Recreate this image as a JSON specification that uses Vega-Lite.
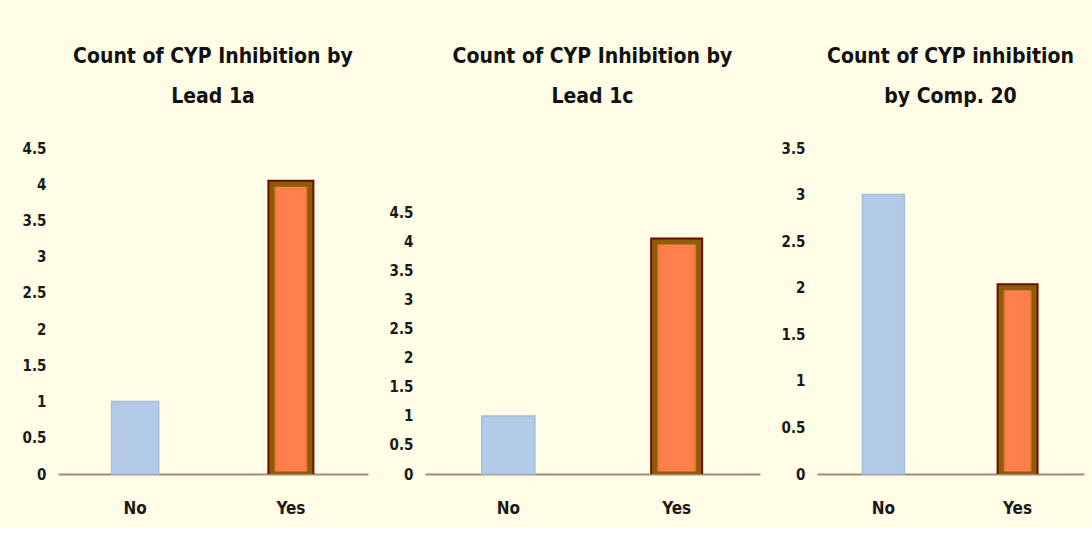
{
  "$schema": "https://vega.github.io/schema/vega-lite/v6.json",
  "background": "#FFFDE6",
  "padding": {"left": 22, "top": 46, "right": 8, "bottom": 12},
  "spacing": 21,
  "datasets": {
    "lead1a": [{"response": "No", "count": 1}, {"response": "Yes", "count": 4}],
    "lead1c": [{"response": "No", "count": 1}, {"response": "Yes", "count": 4}],
    "comp20": [{"response": "No", "count": 3}, {"response": "Yes", "count": 2}]
  },
  "hconcat": [
    {
      "title": {"text": ["Count of CYP Inhibition by", "Lead 1a"]},
      "width": 310,
      "height": 326,
      "data": {"name": "lead1a"},
      "encoding": {
        "x": {"field": "response", "type": "nominal", "scale": {"paddingInner": 0.69, "paddingOuter": 0.34}},
        "y": {"field": "count", "type": "quantitative", "scale": {"domain": [0, 4.5], "nice": false}, "axis": {"values": [0, 0.5, 1, 1.5, 2, 2.5, 3, 3.5, 4, 4.5]}}
      },
      "layer": [
        {"transform": [{"filter": "datum.response === 'No'"}], "mark": {"type": "bar", "size": 47, "fill": "#B3CBE7", "stroke": "#A3BCDB", "strokeWidth": 1.5}},
        {"transform": [{"filter": "datum.response === 'Yes'"}], "mark": {"type": "bar", "size": 38, "clip": true, "fill": "#6A0C00", "stroke": "#6A0C00", "strokeWidth": 9}},
        {"transform": [{"filter": "datum.response === 'Yes'"}], "mark": {"type": "bar", "size": 38, "clip": true, "stroke": "#8E5C06", "strokeWidth": 5, "fill": {"gradient": "linear", "x1": 0, "x2": 1, "y1": 0, "y2": 0, "stops": [{"offset": 0, "color": "#B5651A"}, {"offset": 0.14, "color": "#FF7F4C"}, {"offset": 0.86, "color": "#FF7F4C"}, {"offset": 1, "color": "#B5651A"}]}}}
      ]
    },
    {
      "title": {"text": ["Count of CYP Inhibition by", "Lead 1c"], "offset": 41},
      "width": 335,
      "height": 326,
      "data": {"name": "lead1c"},
      "encoding": {
        "x": {"field": "response", "type": "nominal", "scale": {"paddingInner": 0.69, "paddingOuter": 0.34}},
        "y": {"field": "count", "type": "quantitative", "scale": {"domain": [0, 5.62], "nice": false}, "axis": {"values": [0, 0.5, 1, 1.5, 2, 2.5, 3, 3.5, 4, 4.5]}}
      },
      "layer": [
        {"transform": [{"filter": "datum.response === 'No'"}], "mark": {"type": "bar", "size": 53, "fill": "#B3CBE7", "stroke": "#A3BCDB", "strokeWidth": 1.5}},
        {"transform": [{"filter": "datum.response === 'Yes'"}], "mark": {"type": "bar", "size": 44, "clip": true, "fill": "#6A0C00", "stroke": "#6A0C00", "strokeWidth": 9}},
        {"transform": [{"filter": "datum.response === 'Yes'"}], "mark": {"type": "bar", "size": 44, "clip": true, "stroke": "#8E5C06", "strokeWidth": 5, "fill": {"gradient": "linear", "x1": 0, "x2": 1, "y1": 0, "y2": 0, "stops": [{"offset": 0, "color": "#B5651A"}, {"offset": 0.13, "color": "#FF7F4C"}, {"offset": 0.87, "color": "#FF7F4C"}, {"offset": 1, "color": "#B5651A"}]}}}
      ]
    },
    {
      "title": {"text": ["Count of CYP inhibition", "by Comp. 20"]},
      "width": 267,
      "height": 326,
      "data": {"name": "comp20"},
      "encoding": {
        "x": {"field": "response", "type": "nominal", "scale": {"paddingInner": 0.69, "paddingOuter": 0.34}},
        "y": {"field": "count", "type": "quantitative", "scale": {"domain": [0, 3.5], "nice": false}, "axis": {"values": [0, 0.5, 1, 1.5, 2, 2.5, 3, 3.5]}}
      },
      "layer": [
        {"transform": [{"filter": "datum.response === 'No'"}], "mark": {"type": "bar", "size": 42, "fill": "#B3CBE7", "stroke": "#A3BCDB", "strokeWidth": 1.5}},
        {"transform": [{"filter": "datum.response === 'Yes'"}], "mark": {"type": "bar", "size": 33, "clip": true, "fill": "#6A0C00", "stroke": "#6A0C00", "strokeWidth": 9}},
        {"transform": [{"filter": "datum.response === 'Yes'"}], "mark": {"type": "bar", "size": 33, "clip": true, "stroke": "#8E5C06", "strokeWidth": 5, "fill": {"gradient": "linear", "x1": 0, "x2": 1, "y1": 0, "y2": 0, "stops": [{"offset": 0, "color": "#B5651A"}, {"offset": 0.16, "color": "#FF7F4C"}, {"offset": 0.84, "color": "#FF7F4C"}, {"offset": 1, "color": "#B5651A"}]}}}
      ]
    }
  ],
  "config": {
    "view": {"stroke": null},
    "font": "DejaVu Sans Condensed, Roboto, sans-serif",
    "title": {"font": "DejaVu Sans Condensed, Roboto, sans-serif", "fontSize": 21, "fontWeight": "bold", "color": "#111111", "lineHeight": 40, "offset": 34, "anchor": "middle"},
    "axisX": {"title": null, "labelAngle": 0, "labelFont": "DejaVu Sans Condensed, Roboto, sans-serif", "labelFontSize": 17, "labelFontWeight": "bold", "labelColor": "#1a1a1a", "labelPadding": 26, "ticks": false, "grid": false, "domainColor": "#A58A6E", "domainWidth": 2},
    "axisY": {"title": null, "format": "~g", "labelFont": "DejaVu Sans Condensed, Roboto, sans-serif", "labelFontSize": 15, "labelFontWeight": "bold", "labelColor": "#1a1a1a", "labelPadding": 12, "ticks": false, "grid": false, "domain": false, "minExtent": 36, "maxExtent": 36}
  }
}
